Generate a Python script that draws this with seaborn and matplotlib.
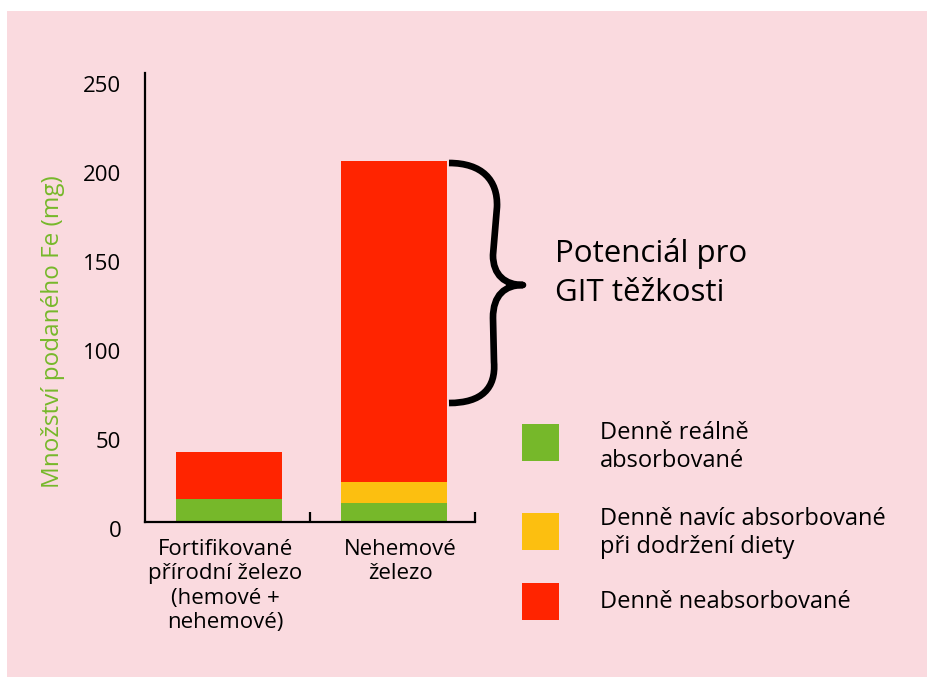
import matplotlib
matplotlib.use("Agg")
import matplotlib.pyplot as plt
import matplotlib.transforms as mtransforms
from matplotlib.patches import Rectangle, PathPatch
from matplotlib.path import Path
import numpy as np
import pandas as pd
import seaborn as sns

# data
categories = ["Fortifikované\npřírodní železo\n(hemové +\nnehemové)", "Nehemové\nželezo"]
absorbed = [13, 10.5]          # Denně reálně absorbované
extra_absorbed = [0, 12]       # Denně navíc absorbované při dodržení diety
not_absorbed = [26.5, 180]     # Denně neabsorbované
legend_labels = ["Denně reálně\nabsorbované",
                 "Denně navíc absorbované\npři dodržení diety",
                 "Denně neabsorbované"]
y_ticks = [0, 50, 100, 150, 200, 250]

GREEN = "#76B82A"
YELLOW = "#FCBF10"
RED = "#FF2400"
PINK = "#FADADF"

sns.set_style("ticks")
plt.rcParams["font.family"] = ["Open Sans", "DejaVu Sans"]
plt.rcParams["text.color"] = "black"
plt.rcParams["xtick.color"] = "black"
plt.rcParams["ytick.color"] = "black"
plt.rcParams["axes.labelcolor"] = "black"

W, H = 927, 677
fig = plt.figure(figsize=(W / 100, H / 100), dpi=100)
fig.patch.set_facecolor("white")
fig.patches.append(Rectangle((7 / W, 0), 1 - 7 / W, 1 - 11 / H, transform=fig.transFigure,
                             facecolor=PINK, edgecolor="none", zorder=-10))

ax = fig.add_axes([145 / W, 1 - 522 / H, 330 / W, 449 / H])
ax.set_facecolor("none")

df = pd.DataFrame({
    "kategorie": categories,
    "green": absorbed,
    "yellow": extra_absorbed,
    "red": not_absorbed,
})
df["mid"] = df["green"] + df["yellow"]
df["total"] = df["mid"] + df["red"]

bw = 0.645
sns.barplot(data=df, x="kategorie", y="total", color=RED, saturation=1, width=bw, ax=ax, linewidth=0)
sns.barplot(data=df, x="kategorie", y="mid", color=YELLOW, saturation=1, width=bw, ax=ax, linewidth=0)
sns.barplot(data=df, x="kategorie", y="green", color=GREEN, saturation=1, width=bw, ax=ax, linewidth=0)

ax.set_xlim(-0.51, 1.49)
ax.set_ylim(0, 252)
sns.despine(ax=ax)
for s in ["left", "bottom"]:
    ax.spines[s].set_linewidth(1.6)
    ax.spines[s].set_color("black")

ax.set_yticks(y_ticks)
ax.set_yticklabels([str(v) for v in y_ticks])
ax.tick_params(axis="y", length=0, pad=17, labelsize=16, labelcolor="black")
off = mtransforms.ScaledTranslation(0, -7 / 100, fig.dpi_scale_trans)
for lab in ax.get_yticklabels():
    lab.set_transform(lab.get_transform() + off)

ax.set_xticks([0, 1])
ax.set_xticklabels(categories, linespacing=1.22)
ax.tick_params(axis="x", length=0, pad=12, labelsize=16, labelcolor="black")
# the category labels sit a little off the bar centres in the reference
for lab, dx in zip(ax.get_xticklabels(), [-4, 6]):
    lab.set_transform(lab.get_transform() + mtransforms.ScaledTranslation(dx / 100, 0, fig.dpi_scale_trans))
ax.set_xticks([0.49, 1.49], minor=True)
ax.tick_params(axis="x", which="minor", direction="in", length=7, width=1.6, color="black")
ax.set_xlabel("")

ax.set_ylabel("Množství podaného Fe (mg)", color=GREEN, fontsize=17.5)
ax.yaxis.set_label_coords((53 - 145) / 330, (522 - 332) / 449)
ax.yaxis.label.set_verticalalignment("center")


def fp(x, y):
    return (x / W, 1 - y / H)


# curly brace next to the tall bar
verts = [fp(449, 163),
         fp(482, 163), fp(498, 180), fp(497, 207),
         fp(493, 255),
         fp(493, 275), fp(505, 285), fp(523, 285),
         fp(505, 285), fp(493, 295), fp(493, 318),
         fp(494, 362),
         fp(496, 388), fp(482, 403), fp(449, 403)]
codes = [Path.MOVETO,
         Path.CURVE4, Path.CURVE4, Path.CURVE4,
         Path.LINETO,
         Path.CURVE4, Path.CURVE4, Path.CURVE4,
         Path.CURVE4, Path.CURVE4, Path.CURVE4,
         Path.LINETO,
         Path.CURVE4, Path.CURVE4, Path.CURVE4]
fig.patches.append(PathPatch(Path(verts, codes), transform=fig.transFigure, facecolor="none",
                             edgecolor="black", linewidth=4.8, capstyle="butt", joinstyle="round"))

fig.text(555 / W, 1 - 273 / H, "Potenciál pro\nGIT těžkosti", fontsize=22.5, ha="left", va="center",
         linespacing=1.4)

# legend drawn by hand
legend_colors = [GREEN, YELLOW, RED]
square_tops = [424, 513, 583]
text_centers = [447, 533, 602]
for col, top, tc, lab in zip(legend_colors, square_tops, text_centers, legend_labels):
    fig.patches.append(Rectangle((522 / W, 1 - (top + 37) / H), 37 / W, 37 / H,
                                 transform=fig.transFigure, facecolor=col, edgecolor="none"))
    fig.text(600 / W, 1 - tc / H, lab, fontsize=17, ha="left", va="center", linespacing=1.17)

fig.savefig("out.png", dpi=100)
